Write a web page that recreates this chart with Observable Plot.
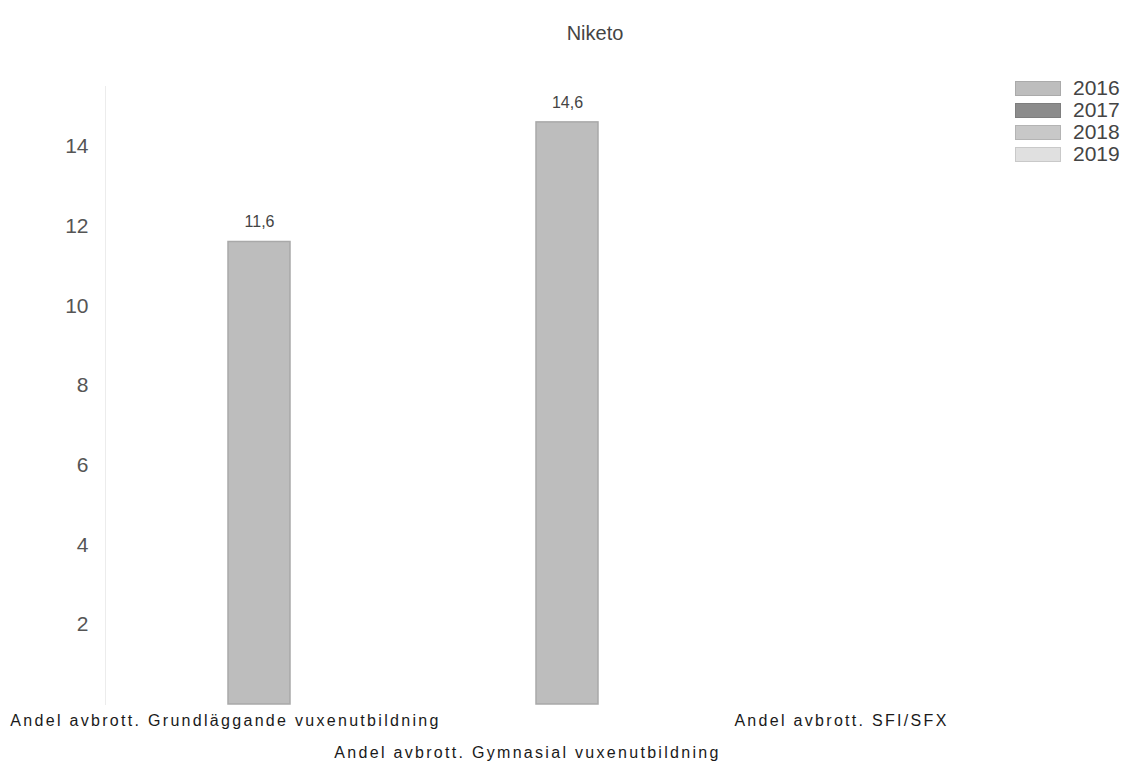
<!DOCTYPE html>
<html>
<head>
<meta charset="utf-8">
<script src="https://cdn.jsdelivr.net/npm/d3@7"></script>
<script src="https://cdn.jsdelivr.net/npm/@observablehq/plot@0.6"></script>
<style>
  html, body { margin: 0; padding: 0; background: #fff; }
  body { width: 1128px; height: 764px; position: relative; overflow: hidden; font-family: "Liberation Sans", Arial, sans-serif; }
  #title { position: absolute; left: 0; top: 22px; width: 1190px; text-align: center; font-size: 20px; color: #444; }
  #chart { position: absolute; left: 0; top: 60px; }
  #legend { position: absolute; left: 1015px; top: 77px; font-size: 21px; color: #444; }
  .item { display: flex; align-items: center; height: 22px; }
  .sw { width: 46px; height: 15px; margin-right: 12px; box-sizing: border-box; }
  .xlab text { letter-spacing: 2.3px; }
</style>
</head>
<body>
<div id="title">Niketo</div>
<div id="chart"></div>
<div id="legend"></div>
<script>
const categories = [
  "Andel avbrott. Grundläggande vuxenutbildning",
  "Andel avbrott. Gymnasial vuxenutbildning",
  "Andel avbrott. SFI/SFX"
];
const years = ["2016", "2017", "2018", "2019"];
const yearColors = ["#bdbdbd", "#8c8c8c", "#c8c8c8", "#e0e0e0"];
const values2016 = [11.6, 14.6, null];
const values2017 = [null, null, null];
const values2018 = [null, null, null];
const values2019 = [null, null, null];
const yTicks = [2, 4, 6, 8, 10, 12, 14];

const series = [values2016, values2017, values2018, values2019];
const data = [];
years.forEach((yr, i) => {
  categories.forEach((c, j) => {
    if (series[i][j] != null) data.push({category: c, year: yr, value: series[i][j]});
  });
});
const fmt = v => String(v).replace(".", ",");

const upper = [categories[0], categories[2]];
const lower = [categories[1]];

const chart = Plot.plot({
  width: 1128,
  height: 704,
  marginLeft: 105,
  marginRight: 99,
  marginTop: 26,
  marginBottom: 60,
  style: {fontFamily: "Liberation Sans, Arial, sans-serif", color: "#444", background: "white"},
  x: {domain: categories, paddingInner: 0.8, paddingOuter: 0.4, axis: null},
  y: {domain: [0, 15.5], axis: null},
  color: {domain: years, range: yearColors},
  marks: [
    Plot.frame({anchor: "left", stroke: "#ececec"}),
    Plot.axisY({ticks: yTicks, tickSize: 0, tickPadding: 17, fontSize: 21, tickFormat: d => d, label: null, fill: "#555"}),
    Plot.axisX({ticks: upper, tickSize: 0, tickPadding: 10, fontSize: 16, dx: -34, label: null, fill: "#1a1a1a", className: "xlab"}),
    Plot.axisX({ticks: lower, tickSize: 0, tickPadding: 42, fontSize: 16, dx: -40, label: null, fill: "#1a1a1a", className: "xlab"}),
    Plot.barY(data, {x: "category", y: "value", fill: "year", stroke: "#a9a9a9", strokeWidth: 1.5}),
    Plot.text(data, {x: "category", y: "value", text: d => fmt(d.value), dy: -20, fontSize: 16, fill: "#444"})
  ]
});
document.getElementById("chart").appendChild(chart);

const legend = document.getElementById("legend");
years.forEach((yr, i) => {
  const row = document.createElement("div");
  row.className = "item";
  const sw = document.createElement("div");
  sw.className = "sw";
  sw.style.background = yearColors[i];
  sw.style.border = "1px solid " + d3.color(yearColors[i]).darker(0.3);
  const t = document.createElement("span");
  t.textContent = yr;
  row.appendChild(sw);
  row.appendChild(t);
  legend.appendChild(row);
});
</script>
</body>
</html>
